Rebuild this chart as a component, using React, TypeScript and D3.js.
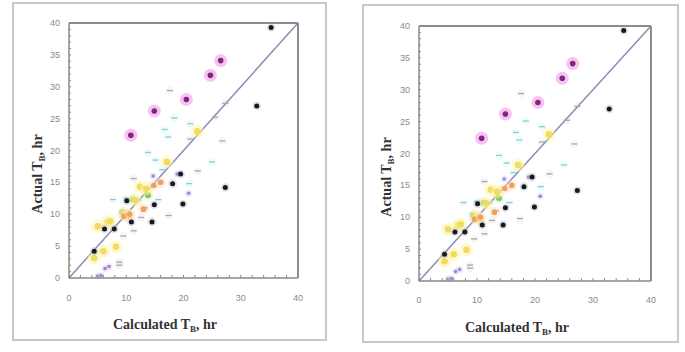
import React from "react";
import * as d3 from "d3";

// ---- data (Calculated T_B, Actual T_B) in hours ----
const magentaPts: [number, number][] = [[10.8, 22.4], [14.9, 26.2], [20.5, 28.0], [24.7, 31.8], [26.5, 34.1]];
const blackPts: [number, number][] = [[35.3, 39.3], [32.8, 27.0], [27.3, 14.2], [19.5, 16.3], [18.1, 14.8], [19.9, 11.6], [14.9, 11.5], [14.5, 8.8], [10.9, 8.8], [7.9, 7.7], [6.2, 7.7], [10.1, 12.1], [4.4, 4.2]];
const yellowPts: [number, number][] = [[22.4, 23.0], [17.1, 18.2], [12.4, 14.3], [11.6, 12.2], [9.9, 10.1], [6.7, 8.7], [5.0, 8.1], [6.0, 4.2], [8.2, 4.9], [4.4, 3.1], [13.5, 14.0], [10.3, 9.8], [7.2, 8.9]];
const orangePts: [number, number][] = [[9.6, 9.7], [10.6, 10.0], [14.8, 14.5], [16.0, 15.0], [13.0, 10.8]];
const greenPts: [number, number][] = [[9.3, 10.3], [11.2, 12.3], [13.8, 13.0]];
const cyanPts: [number, number][] = [[16.7, 23.3], [17.3, 22.1], [18.4, 25.1], [21.2, 24.2], [13.8, 19.7], [15.1, 18.5], [16.3, 17.0], [25.0, 18.2], [21.0, 14.8], [15.6, 12.3], [7.7, 12.3], [10.0, 12.5], [12.2, 12.2]];
const grayPts: [number, number][] = [[17.6, 29.4], [27.3, 27.4], [25.5, 25.2], [21.2, 21.8], [26.8, 21.5], [22.5, 16.8], [17.4, 9.8], [9.5, 6.6], [8.8, 2.5], [8.8, 2.0], [11.3, 15.6], [12.6, 9.5], [13.3, 11.0], [11.3, 7.4]];
const purplePts: [number, number][] = [[20.9, 13.3], [7.0, 1.8], [5.0, 0.3], [5.6, 0.4], [14.7, 16.0], [18.9, 16.3], [6.3, 1.5]];

const xTicks = [0, 10, 20, 30, 40];
const yTicks = [0, 5, 10, 15, 20, 25, 30, 35, 40];
const xMinor = d3.range(0, 41, 2);
const yMinor = d3.range(0, 41, 1);
const xTitle = "Calculated T";
const yTitle = "Actual T";
const sub = "B";
const unit = ", hr";

type Layout = {
  box: [number, number, number, number];
  plot: [number, number, number, number];
  xLabY: number;
  xTitle: [number, number];
  yTitle: [number, number];
};

const panels: Layout[] = [
  { box: [13, 3, 313, 337], plot: [69, 23, 298, 278], xLabY: 301, xTitle: [165, 329], yTitle: [42, 174] },
  { box: [363, 5, 315, 337], plot: [419, 26, 651, 281], xLabY: 303, xTitle: [517, 332], yTitle: [391, 177] },
];

function Panel({ L }: { L: Layout }) {
  const [px0, py0, px1, py1] = L.plot;
  const x = d3.scaleLinear().domain([0, 40]).range([px0, px1]);
  const y = d3.scaleLinear().domain([0, 40]).range([py1, py0]);
  const axisCol = "#8a8a8a";
  const lab = { fontFamily: "Liberation Sans, Arial, sans-serif", fontSize: 9, fill: "#8a8a8a" } as const;
  const title = { fontFamily: "Liberation Serif, Times New Roman, serif", fontSize: 14, fontWeight: 700, fill: "#333" } as const;

  const halo = (pts: [number, number][], col: string, haloCol: string, r: number, rh: number, key: string, ho = 0.35) =>
    pts.map((p, i) => (
      <g key={key + i}>
        <circle cx={x(p[0])} cy={y(p[1])} r={rh} fill={haloCol} opacity={ho} />
        <circle cx={x(p[0])} cy={y(p[1])} r={r} fill={col} />
      </g>
    ));
  const dash = (pts: [number, number][], col: string, key: string) =>
    pts.map((p, i) => (
      <g key={key + i}>
        <circle cx={x(p[0])} cy={y(p[1])} r={4} fill={col} opacity={0.1} />
        <line x1={x(p[0]) - 3} x2={x(p[0]) + 3} y1={y(p[1])} y2={y(p[1])} stroke={col} strokeWidth={1.3} />
      </g>
    ));

  return (
    <g>
      <rect x={L.box[0]} y={L.box[1]} width={L.box[2]} height={L.box[3]} fill="white" stroke="#c8c8c8" strokeWidth={2} />
      {/* frame */}
      <line x1={px0} x2={px1} y1={py0} y2={py0} stroke="#666" strokeWidth={1.5} />
      <line x1={px1} x2={px1} y1={py0} y2={py1} stroke="#666" strokeWidth={1.5} />
      {/* diagonal */}
      <line x1={x(0)} y1={y(0)} x2={x(40)} y2={y(40)} stroke="#8c8cb8" strokeWidth={1.5} />
      {/* markers */}
      {dash(cyanPts, "#7fd0da", "c")}
      {dash(grayPts, "#a8a8a8", "g")}
      {halo(purplePts, "#9a8ad0", "#d0c4f0", 1.8, 3.5, "p")}
      {halo(greenPts, "#88c860", "#d0f0b0", 3, 5.5, "gr")}
      {halo(yellowPts, "#f0dc60", "#fff4a0", 3.3, 6.5, "y", 0.5)}
      {halo(orangePts, "#f0a060", "#ffd8b8", 2.8, 5.5, "o")}
      {halo(magentaPts, "#7a2a78", "#f490ec", 2.8, 6.5, "m", 0.55)}
      {halo(blackPts, "#181822", "#b0b0bc", 2.5, 4.3, "b")}
      {/* axes */}
      <line x1={px0} x2={px0} y1={py0} y2={py1} stroke={axisCol} strokeWidth={1.5} />
      <line x1={px0} x2={px1} y1={py1} y2={py1} stroke={axisCol} strokeWidth={1.5} />
      {yMinor.map((v) => (
        <line key={"ym" + v} x1={px0} x2={px0 + 2} y1={y(v)} y2={y(v)} stroke={axisCol} strokeWidth={1} />
      ))}
      {xMinor.map((v) => (
        <line key={"xm" + v} x1={x(v)} x2={x(v)} y1={py1} y2={py1 - 3} stroke={axisCol} strokeWidth={1} />
      ))}
      {yTicks.map((v) => (
        <text key={"yl" + v} x={px0 - 9} y={y(v) + 3} textAnchor="end" style={lab}>{v}</text>
      ))}
      {xTicks.map((v) => (
        <text key={"xl" + v} x={x(v)} y={L.xLabY} textAnchor="middle" style={lab}>{v}</text>
      ))}
      <text x={L.xTitle[0]} y={L.xTitle[1]} textAnchor="middle" style={title}>
        {xTitle}
        <tspan fontSize={9} dy={3}>{sub}</tspan>
        <tspan dy={-3}>{unit}</tspan>
      </text>
      <text transform={`translate(${L.yTitle[0]},${L.yTitle[1]}) rotate(-90)`} textAnchor="middle" style={title}>
        {yTitle}
        <tspan fontSize={9} dy={3}>{sub}</tspan>
        <tspan dy={-3}>{unit}</tspan>
      </text>
    </g>
  );
}

export default function App() {
  return (
    <svg width={685} height={352} style={{ position: "absolute", left: 0, top: 0, background: "white" }}>
      <rect width={685} height={352} fill="white" />
      {panels.map((L, i) => (
        <Panel key={i} L={L} />
      ))}
    </svg>
  );
}
